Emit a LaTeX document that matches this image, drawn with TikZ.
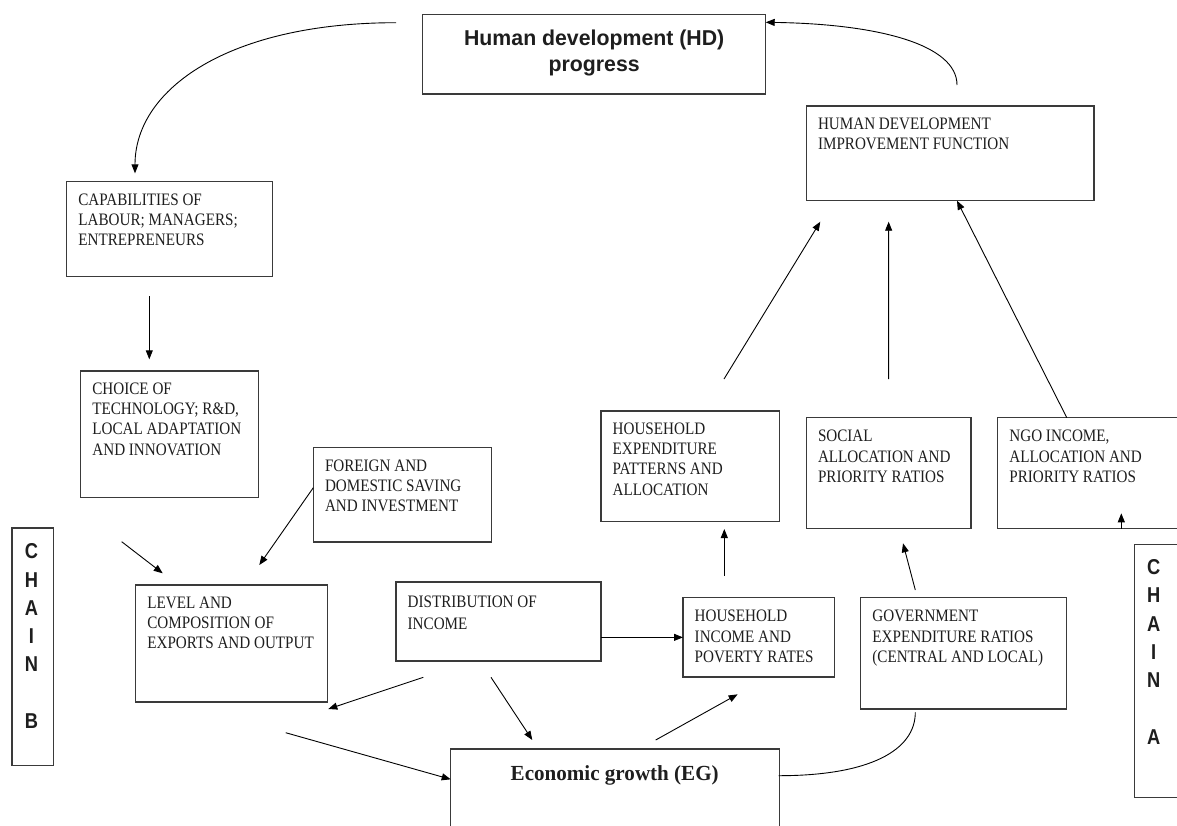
\documentclass[tikz,border=0pt]{standalone}
\usepackage{fontspec}
\usetikzlibrary{arrows.meta,calc}
\newfontfamily\bodyf{Liberation Serif}[FakeStretch=0.865]
\newfontfamily\egf{Liberation Serif}[FakeStretch=0.98]
\newfontfamily\hdf{Liberation Sans}[FakeStretch=0.99]
\newfontfamily\chainf{Liberation Sans}[FakeStretch=0.85]
\definecolor{boxc}{HTML}{3A3A3A}
\definecolor{txtc}{HTML}{1E1E1E}
\tikzset{
  box/.style={draw=boxc, line width=1.2pt, inner sep=0pt, outer sep=0pt, anchor=north west},
  txt/.style={anchor=north west, inner sep=0pt, align=left, text=txtc, font=\fontsize{17.5}{20.3}\bodyf},
  arr/.style={draw=black, line width=0.9pt, -{Triangle[length=9pt,width=7pt]}},
  ln/.style={draw=black, line width=0.9pt},
}
\begin{document}
\begin{tikzpicture}[x=1pt,y=-1pt]
\useasboundingbox (0,0) rectangle (1177,825);
\fill[white] (0,0) rectangle (1177,825);
\clip (0,0) rectangle (1177,825);

% boxes
\node[box, minimum width=343pt, minimum height=79.3pt] (hd) at (422.7,14.7) {};
\node[box, minimum width=287.7pt, minimum height=94.7pt] (hdif) at (806.3,106) {};
\node[box, minimum width=206pt, minimum height=94.6pt] (cap) at (66.7,181.7) {};
\node[box, minimum width=178pt, minimum height=126.7pt] (choice) at (80.7,371) {};
\node[box, minimum width=178.4pt, minimum height=94.7pt] (foreign) at (313.3,447.3) {};
\node[box, minimum width=191.6pt, minimum height=117pt] (level) at (135.7,585) {};
\node[box, minimum width=205pt, minimum height=79pt] (dist) at (396,582) {};
\node[box, minimum width=178.3pt, minimum height=110.7pt] (hhexp) at (601,411) {};
\node[box, minimum width=164.7pt, minimum height=111pt] (social) at (806.3,417.7) {};
\node[box, minimum width=190pt, minimum height=111pt] (ngo) at (997.7,417.7) {};
\node[box, minimum width=151.3pt, minimum height=79.3pt] (hhinc) at (683,597.7) {};
\node[box, minimum width=205.6pt, minimum height=111.3pt] (gov) at (860.7,597.7) {};
\node[box, minimum width=328.6pt, minimum height=100pt] (eg) at (450.7,749) {};
\node[box, minimum width=41.3pt, minimum height=237.7pt] (chainB) at (12,528) {};
\node[box, minimum width=60pt, minimum height=253pt] (chainA) at (1134.7,544.3) {};

% texts
\node[anchor=north, inner sep=0pt, align=center, text=txtc, font=\fontsize{21.5}{26.7}\hdf\bfseries] (hdT) at (594.2,26.3) {\strut Human development (HD)\\progress};
\node[anchor=base, inner sep=0pt, text=txtc, font=\fontsize{21.5}{26}\egf\bfseries] (egT) at (614.7,780) {Economic growth (EG)};
\node[txt] (capT) at (78.2,190.9) {\strut CAPABILITIES OF\\LABOUR; MANAGERS;\\ENTREPRENEURS};
\node[txt] (choiceT) at (92.2,379.9) {\strut CHOICE OF\\TECHNOLOGY; R\&D,\\LOCAL ADAPTATION\\AND INNOVATION};
\node[txt] (foreignT) at (324.8,456.6) {\strut FOREIGN AND\\DOMESTIC SAVING\\AND INVESTMENT};
\node[txt] (levelT) at (147.2,593.9) {\strut LEVEL AND\\COMPOSITION OF\\EXPORTS AND OUTPUT};
\node[txt, font=\fontsize{17.5}{22.3}\bodyf] (distT) at (407.5,591.2) {\strut DISTRIBUTION OF\\INCOME};
\node[txt] (hhexpT) at (612.5,419.9) {\strut HOUSEHOLD\\EXPENDITURE\\PATTERNS AND\\ALLOCATION};
\node[txt] (socialT) at (817.8,427.3) {\strut SOCIAL\\ALLOCATION AND\\PRIORITY RATIOS};
\node[txt] (ngoT) at (1009.2,427.3) {\strut NGO INCOME,\\ALLOCATION AND\\PRIORITY RATIOS};
\node[txt] (hhincT) at (694.5,607.3) {\strut HOUSEHOLD\\INCOME AND\\POVERTY RATES};
\node[txt] (govT) at (872.2,607.3) {\strut GOVERNMENT\\EXPENDITURE RATIOS\\(CENTRAL AND LOCAL)};
\node[txt, font=\fontsize{17.5}{20.7}\bodyf] (hdifT) at (817.8,114.6) {\strut HUMAN DEVELOPMENT\\IMPROVEMENT FUNCTION};
\node[anchor=north, inner sep=0pt, align=center, text=txtc, font=\fontsize{21.5}{28.2}\chainf\bfseries] (chainBT) at (31.5,539) {\strut C\\H\\A\\I\\N\\[28.2pt]B};
\node[anchor=north, inner sep=0pt, align=center, text=txtc, font=\fontsize{21.5}{28.3}\chainf\bfseries] (chainAT) at (1153.7,554.5) {\strut C\\H\\A\\I\\N\\[28.3pt]A};

% free coordinates
\coordinate (a3s) at (121.7,541.7);
\coordinate (a7s) at (285.7,732.7);

% connectors
\draw[arr] ($(hd.north west)+(-26.7,8)$) .. controls +(-166,0) and +(0,-85) .. ($(cap.north west)+(68.3,-8.4)$);
\draw[arr] ($(hdif.north)+(6.85,-21)$) .. controls +(0,-40) and +(114.3,1.7) .. ($(hd.north east)+(0,7.6)$);
\draw[arr] ($(cap.south)+(-20.4,19.7)$) -- ($(choice.north)+(-20.4,-11.7)$);
\draw[arr] (a3s) -- ($(level.north west)+(27,-11.7)$);
\draw[arr] ($(foreign.west)+(0,-6.95)$) -- ($(level.north east)+(-68,-20)$);
\draw[arr] ($(dist.south west)+(27.3,16.3)$) -- ($(level.south east)+(1,7)$);
\draw[arr] ($(dist.south west)+(95,16.3)$) -- ($(eg.north west)+(81.6,-9)$);
\draw[arr] (a7s) -- ($(eg.north west)+(0,30.3)$);
\draw[arr] (dist.east |- hhinc.west) -- (hhinc.west);
\draw[arr] ($(eg.north west)+(205,-9)$) -- ($(hhinc.south)+(-21,17.3)$);
\draw[ln] ($(eg.north east)+(-0.6,26.7)$) .. controls +(91,0) and +(0,38) .. ($(gov.south)+(-48.2,3.3)$);
\draw[arr] ($(gov.north)+(-48.2,-7.7)$) -- ($(social.south)+(14.35,14.6)$);
\draw[arr] ($(hhinc.north)+(-34.35,-22)$) -- ($(hhexp.south)+(34.15,7.3)$);
\draw[arr] ($(ngo.south west)+(123.6,0)$) -- ($(ngo.south west)+(123.6,-15.4)$);
\draw[arr] ($(hhexp.north)+(33.85,-32)$) -- ($(hdif.south west)+(14,21)$);
\draw[arr] ($(social.north)+(0,-38.7)$) -- ($(hdif.south west)+(82.35,21)$);
\draw[arr] ($(ngo.north west)+(69.1,0)$) -- ($(hdif.south)+(6.85,0)$);
\end{tikzpicture}
\end{document}
